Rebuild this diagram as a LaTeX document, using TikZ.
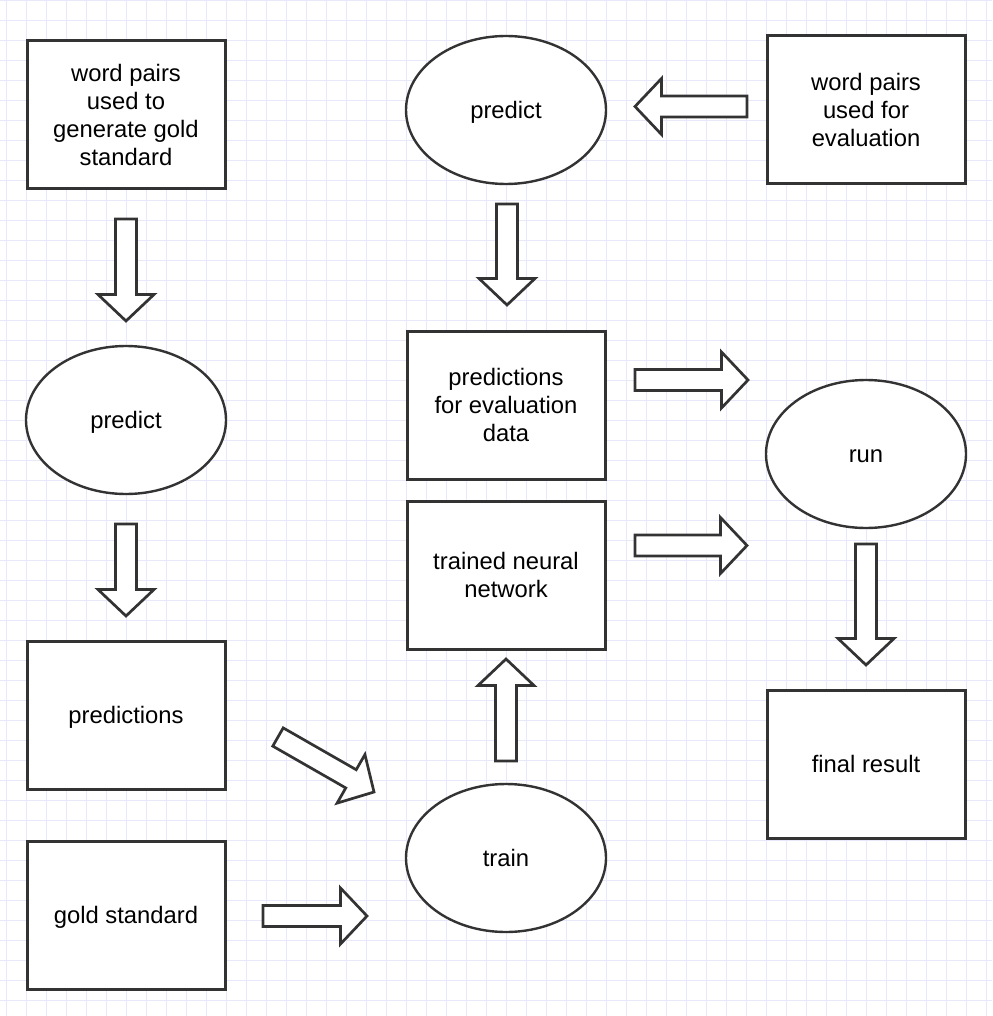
\documentclass[tikz,border=0pt]{standalone}
\usepackage{fontspec}
\setmainfont{Liberation Sans}
\usetikzlibrary{calc,shapes.geometric}
\definecolor{ink}{HTML}{333333}
\definecolor{gridA}{HTML}{E8E8FB}
\tikzset{
  box/.style={draw=ink, line width=3pt, fill=white, minimum width=198pt, minimum height=148pt, inner sep=0pt, align=center, font=\fontsize{23.8}{28}\selectfont},
  oval/.style={draw=ink, line width=2.4pt, fill=white, ellipse, minimum width=200pt, minimum height=148pt, inner sep=0pt, align=center, font=\fontsize{23.8}{28}\selectfont, oneline},
  oneline/.style={text height=20pt, text depth=2.6pt},
  blk/.style={draw=ink, line width=2.7pt, fill=white, line join=miter},
  gridline/.style={draw=gridA, line width=1.3pt}
}
\newcommand\blockarrow[2]{%
  \coordinate (tmpH) at ($(#2)!26.5pt!(#1)$);
  \draw[blk] ($(#1)!10.5pt!90:(#2)$) -- ($(tmpH)!10.5pt!90:(#2)$) -- ($(tmpH)!28pt!90:(#2)$) -- (#2)
    -- ($(tmpH)!28pt!-90:(#2)$) -- ($(tmpH)!10.5pt!-90:(#2)$) -- ($(#1)!10.5pt!-90:(#2)$) -- cycle;}
\begin{document}
\begin{tikzpicture}[x=1pt,y=-1pt]
\useasboundingbox (0,0) rectangle (992,1016);
\fill[white] (0,0) rectangle (992,1016);
\foreach \x in {6.7,26.7,...,990} \draw[gridline] (\x,0) -- (\x,1016);
\foreach \y in {0.7,20.7,...,1016} \draw[gridline] (0,\y) -- (992,\y);
% nodes
\node[box] (b1) at (126,115) {word pairs\\used to\\generate gold\\standard};
\node[oval] (pl) at (126,420) {predict};
\node[box, oneline] (pred) at (126,715) {predictions};
\node[box, oneline] (gold) at (126,915) {gold standard};
\node[oval] (ptop) at (506,110) {predict};
\node[box] (pe) at (506,405) {predictions\\for evaluation\\data};
\node[box] (tnn) at (506,575) {trained neural\\network};
\node[oval] (train) at (506,858) {train};
\node[box] (wpe) at (866,110) {word pairs\\used for\\evaluation};
\node[oval] (run) at (866,454) {run};
\node[box, oneline] (fin) at (866,764) {final result};
% arrow anchors
\coordinate (a1s) at (126,219); \coordinate (a1e) at (126,321);
\coordinate (a2s) at (126,524); \coordinate (a2e) at (126,616);
\coordinate (a3s) at (278,737); \coordinate (a3e) at (374,792);
\coordinate (a4s) at (263,916); \coordinate (a4e) at (367,916);
\coordinate (a5s) at (506,761); \coordinate (a5e) at (506,659);
\coordinate (a6s) at (507,204); \coordinate (a6e) at (507,305);
\coordinate (a7s) at (747,106.5); \coordinate (a7e) at (635,106.5);
\coordinate (a8s) at (635,380); \coordinate (a8e) at (748,380);
\coordinate (a9s) at (635,545.5); \coordinate (a9e) at (747,545.5);
\coordinate (a10s) at (866,544); \coordinate (a10e) at (866,665);
\blockarrow{a1s}{a1e}
\blockarrow{a2s}{a2e}
\blockarrow{a3s}{a3e}
\blockarrow{a4s}{a4e}
\blockarrow{a5s}{a5e}
\blockarrow{a6s}{a6e}
\blockarrow{a7s}{a7e}
\blockarrow{a8s}{a8e}
\blockarrow{a9s}{a9e}
\blockarrow{a10s}{a10e}
\end{tikzpicture}
\end{document}
